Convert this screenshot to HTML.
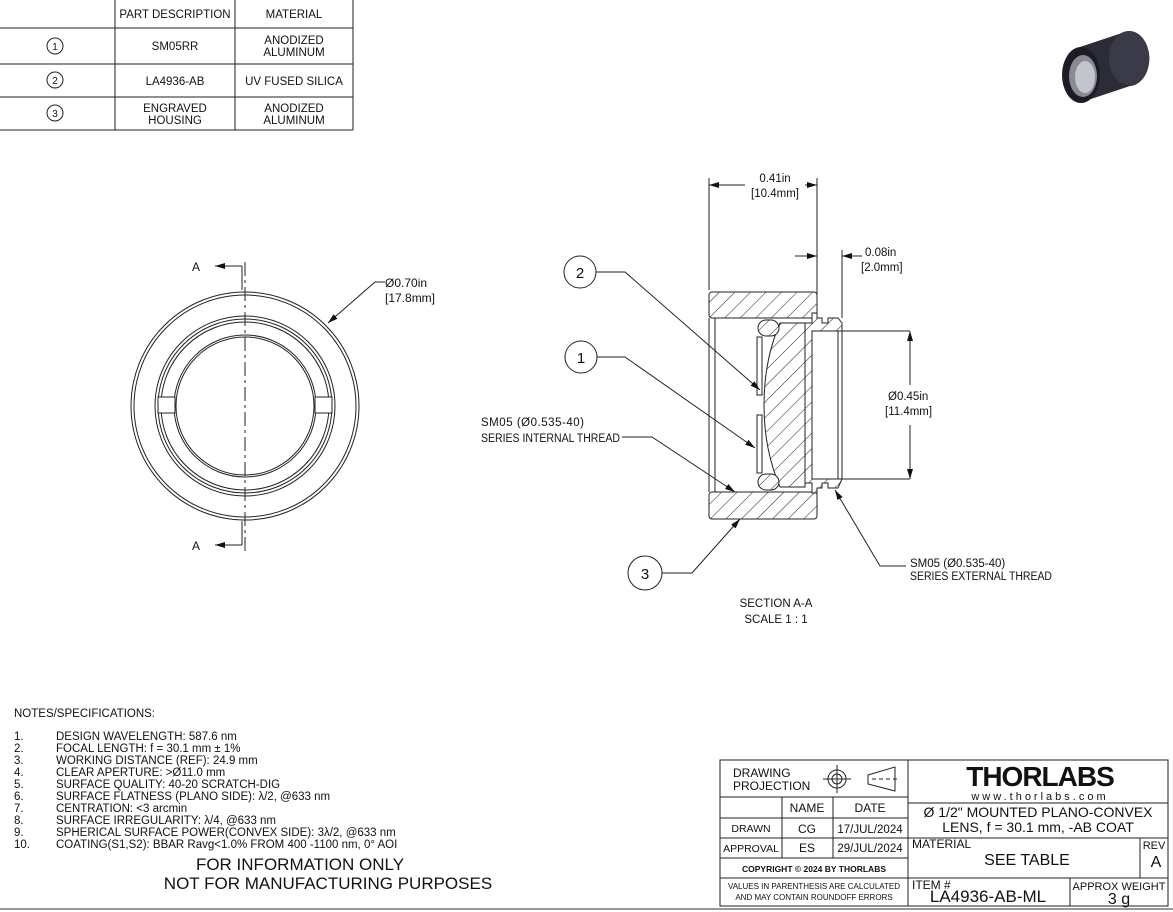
<!DOCTYPE html>
<html><head><meta charset="utf-8"><style>
html,body{margin:0;padding:0;background:#fff}
svg{display:block}
text{font-family:"Liberation Sans",sans-serif;fill:#111}
</style></head><body>
<svg width="1173" height="912" viewBox="0 0 1173 912" xmlns="http://www.w3.org/2000/svg">
<defs>
<pattern id="h" width="11" height="11" patternUnits="userSpaceOnUse" patternTransform="rotate(45)">
<rect width="11" height="11" fill="#fff"/><line x1="0" y1="0" x2="0" y2="11" stroke="#222" stroke-width="1"/>
</pattern>
<marker id="ar" markerWidth="10" markerHeight="6" refX="10" refY="3" orient="auto" markerUnits="userSpaceOnUse"><path d="M0,0 L10,3 L0,6z" fill="#111"/></marker>
</defs>
<g stroke="#222" fill="none" stroke-width="1">
<line x1="0" y1="28" x2="353" y2="28"/><line x1="0" y1="64" x2="353" y2="64"/><line x1="0" y1="97" x2="353" y2="97"/><line x1="0" y1="130" x2="353" y2="130"/>
<line x1="115" y1="0" x2="115" y2="130"/><line x1="235" y1="0" x2="235" y2="130"/><line x1="353" y1="0" x2="353" y2="130"/>
<circle cx="55" cy="46" r="8"/><circle cx="55" cy="80" r="8"/><circle cx="55" cy="113" r="8"/>
</g>
<g font-size="11.5" text-anchor="middle">
<text x="175" y="18">PART DESCRIPTION</text><text x="294" y="18">MATERIAL</text>
<text x="55" y="50" font-size="10">1</text><text x="55" y="84" font-size="10">2</text><text x="55" y="117" font-size="10">3</text>
<text x="175" y="50">SM05RR</text><text x="294" y="44">ANODIZED</text><text x="294" y="56">ALUMINUM</text>
<text x="175" y="85">LA4936-AB</text><text x="294" y="85">UV FUSED SILICA</text>
<text x="175" y="112">ENGRAVED</text><text x="175" y="124">HOUSING</text><text x="294" y="112">ANODIZED</text><text x="294" y="124">ALUMINUM</text>
</g>
<!-- thumbnail -->
<g>
<path d="M1080,47 L1128,31 A20,27 0 0 1 1130,86 L1082,102 Z" fill="#2c2c38"/>
<ellipse cx="1129" cy="58" rx="20" ry="27" fill="#3a3a48"/>
<ellipse cx="1081" cy="75" rx="19" ry="28" fill="#1c1c24"/>
<ellipse cx="1083" cy="76" rx="14" ry="21" fill="#8a8a96"/>
<ellipse cx="1085" cy="77" rx="10" ry="16" fill="#c4c4cc"/>
</g>
<!-- front view -->
<g stroke="#222" fill="none" stroke-width="1">
<circle cx="245" cy="406" r="114"/><circle cx="245" cy="406" r="111"/>
<circle cx="245" cy="406" r="90"/><circle cx="245" cy="406" r="87"/><circle cx="245" cy="406" r="84"/>
<circle cx="245" cy="406" r="71"/><circle cx="245" cy="406" r="69"/>
<rect x="158" y="397" width="17" height="16" fill="#fff"/><rect x="315" y="397" width="17" height="16" fill="#fff"/>
<line x1="245" y1="262" x2="245" y2="552" stroke-dasharray="14,4,3,4"/>
<line x1="242" y1="266" x2="242" y2="290"/><line x1="242" y1="266" x2="215" y2="266" marker-end="url(#ar)"/>
<line x1="242" y1="521" x2="242" y2="545"/><line x1="242" y1="545" x2="215" y2="545" marker-end="url(#ar)"/>
<polyline points="385,282 375,282 328,323" marker-end="url(#ar)"/>
</g>
<g font-size="12"><text x="192" y="271">A</text><text x="192" y="550">A</text>
<text x="385" y="287">Ø0.70in</text><text x="385" y="302">[17.8mm]</text></g>
<!-- section view -->
<g stroke="#222" stroke-width="1">
<rect x="709" y="292" width="108" height="26" rx="3" fill="url(#h)"/>
<rect x="709" y="492" width="108" height="27" rx="3" fill="url(#h)"/>
<line x1="709" y1="318" x2="709" y2="492"/><line x1="715" y1="318" x2="715" y2="492"/>
<path d="M805,323 H812 V313 H817 V318 H822 V323 H828 V318 H838 L842,323 V331 H842 V479 L838,488 H828 V483 H822 V488 H817 V493 H812 V483 H805 Z" fill="url(#h)"/>
<rect x="812" y="331" width="30" height="148" fill="#fff"/>
<line x1="838" y1="331" x2="838" y2="479"/><line x1="842" y1="331" x2="910" y2="331" fill="none"/><line x1="842" y1="479" x2="910" y2="479"/>
<path d="M780,323 H805 V487 H780 Q764,450 764,405 Q764,360 780,323 Z" fill="url(#h)"/>
<rect x="758" y="320" width="21" height="16" rx="8" fill="url(#h)"/>
<rect x="758" y="474" width="21" height="16" rx="8" fill="url(#h)"/>
<rect x="757" y="337" width="5" height="58" fill="#fff"/><rect x="757" y="415" width="5" height="58" fill="#fff"/>
</g>
<g stroke="#222" fill="none" stroke-width="1">
<line x1="709" y1="290" x2="709" y2="178"/><line x1="817" y1="290" x2="817" y2="178"/>
<line x1="745" y1="185" x2="709" y2="185" marker-end="url(#ar)"/><line x1="805" y1="185" x2="817" y2="185" marker-end="url(#ar)"/>
<line x1="817" y1="250" x2="817" y2="311"/><line x1="842" y1="250" x2="842" y2="318"/>
<line x1="795" y1="256" x2="817" y2="256" marker-end="url(#ar)"/><line x1="862" y1="256" x2="842" y2="256" marker-end="url(#ar)"/>
<line x1="910" y1="385" x2="910" y2="331" marker-end="url(#ar)"/><line x1="910" y1="425" x2="910" y2="479" marker-end="url(#ar)"/>
<circle cx="580" cy="272" r="16"/><polyline points="596,272 625,272 760,390" marker-end="url(#ar)"/>
<circle cx="581" cy="357" r="16"/><polyline points="597,357 625,357 755,448" marker-end="url(#ar)"/>
<polyline points="622,437 652,437 735,492" marker-end="url(#ar)"/>
<circle cx="645" cy="573" r="17"/><polyline points="662,573 692,573 740,519" marker-end="url(#ar)"/>
<polyline points="906,566 880,566 835,490" marker-end="url(#ar)"/>
</g>
<g font-size="11.5">
<text x="775" y="182" text-anchor="middle">0.41in</text><text x="775" y="197" text-anchor="middle">[10.4mm]</text>
<text x="865" y="256">0.08in</text><text x="861" y="271">[2.0mm]</text>
<text x="888" y="400">Ø0.45in</text><text x="885" y="415">[11.4mm]</text>
<text x="580" y="278" text-anchor="middle" font-size="15">2</text><text x="581" y="363" text-anchor="middle" font-size="15">1</text><text x="645" y="579" text-anchor="middle" font-size="15">3</text>
<text x="481" y="426" textLength="103">SM05 (Ø0.535-40)</text><text x="481" y="442" textLength="139" lengthAdjust="spacingAndGlyphs">SERIES INTERNAL THREAD</text>
<text x="910" y="567">SM05 (Ø0.535-40)</text><text x="910" y="580" textLength="142" lengthAdjust="spacingAndGlyphs">SERIES EXTERNAL THREAD</text>
<text x="776" y="607" text-anchor="middle">SECTION A-A</text><text x="776" y="623" text-anchor="middle">SCALE 1 : 1</text>
</g>
<g font-size="11.5">
<text x="14" y="717">NOTES/SPECIFICATIONS:</text>
<text x="14" y="740">1.</text><text x="56" y="740">DESIGN WAVELENGTH: 587.6 nm</text>
<text x="14" y="752">2.</text><text x="56" y="752">FOCAL LENGTH: f = 30.1 mm ± 1%</text>
<text x="14" y="764">3.</text><text x="56" y="764">WORKING DISTANCE (REF): 24.9 mm</text>
<text x="14" y="776">4.</text><text x="56" y="776">CLEAR APERTURE: &gt;Ø11.0 mm</text>
<text x="14" y="788">5.</text><text x="56" y="788">SURFACE QUALITY: 40-20 SCRATCH-DIG</text>
<text x="14" y="800">6.</text><text x="56" y="800">SURFACE FLATNESS (PLANO SIDE): λ/2, @633 nm</text>
<text x="14" y="812">7.</text><text x="56" y="812">CENTRATION: &lt;3 arcmin</text>
<text x="14" y="824">8.</text><text x="56" y="824">SURFACE IRREGULARITY: λ/4, @633 nm</text>
<text x="14" y="836">9.</text><text x="56" y="836">SPHERICAL SURFACE POWER(CONVEX SIDE): 3λ/2, @633 nm</text>
<text x="14" y="848">10.</text><text x="56" y="848">COATING(S1,S2): BBAR Ravg&lt;1.0% FROM 400 -1100 nm, 0° AOI</text>
<text x="300" y="870" font-size="17" text-anchor="middle">FOR INFORMATION ONLY</text>
<text x="328" y="889" font-size="17" text-anchor="middle">NOT FOR MANUFACTURING PURPOSES</text>
</g>
<line x1="0" y1="909" x2="1173" y2="909" stroke="#999" stroke-width="2"/>
<g stroke="#222" fill="none" stroke-width="1">
<rect x="720" y="760" width="448" height="146"/>
<line x1="908" y1="760" x2="908" y2="906"/>
<line x1="720" y1="797" x2="908" y2="797"/><line x1="720" y1="818" x2="908" y2="818"/><line x1="720" y1="838" x2="908" y2="838"/><line x1="720" y1="858" x2="908" y2="858"/><line x1="720" y1="878" x2="908" y2="878"/>
<line x1="782" y1="797" x2="782" y2="858"/><line x1="833" y1="797" x2="833" y2="858"/>
<line x1="908" y1="803" x2="1168" y2="803"/><line x1="908" y1="838" x2="1168" y2="838"/><line x1="908" y1="878" x2="1168" y2="878"/>
<line x1="1140" y1="838" x2="1140" y2="878"/><line x1="1070" y1="878" x2="1070" y2="906"/>
<circle cx="837" cy="779" r="9"/><circle cx="837" cy="779" r="5"/><line x1="823" y1="779" x2="851" y2="779"/><line x1="837" y1="765" x2="837" y2="793"/>
<polygon points="868,775 895,767 895,791 868,784"/><line x1="872" y1="779" x2="898" y2="779" stroke-dasharray="4,3"/>
</g>
<g font-size="12">
<text x="733" y="777">DRAWING</text><text x="733" y="790">PROJECTION</text>
<text x="807" y="812" text-anchor="middle">NAME</text><text x="870" y="812" text-anchor="middle">DATE</text>
<text x="751" y="832" text-anchor="middle" font-size="10.5">DRAWN</text><text x="807" y="833" text-anchor="middle">CG</text><text x="870" y="833" text-anchor="middle" font-size="11.5">17/JUL/2024</text>
<text x="751" y="852" text-anchor="middle" font-size="10.5">APPROVAL</text><text x="807" y="852" text-anchor="middle">ES</text><text x="870" y="852" text-anchor="middle" font-size="11.5">29/JUL/2024</text>
<text x="814" y="872" text-anchor="middle" font-size="8.5" font-weight="bold">COPYRIGHT © 2024 BY THORLABS</text>
<text x="814" y="889" text-anchor="middle" font-size="8">VALUES IN PARENTHESIS ARE CALCULATED</text>
<text x="814" y="900" text-anchor="middle" font-size="8">AND MAY CONTAIN ROUNDOFF ERRORS</text>
<text x="1040" y="786" text-anchor="middle" font-size="28" font-weight="bold" letter-spacing="-1">THORLABS</text>
<text x="1040" y="800" text-anchor="middle" font-size="11" letter-spacing="3">www.thorlabs.com</text>
<text x="1038" y="817" text-anchor="middle" font-size="14">Ø 1/2" MOUNTED PLANO-CONVEX</text>
<text x="1038" y="832" text-anchor="middle" font-size="14">LENS, f = 30.1 mm, -AB COAT</text>
<text x="912" y="848">MATERIAL</text><text x="1027" y="865" text-anchor="middle" font-size="16">SEE TABLE</text>
<text x="1154" y="849" text-anchor="middle" font-size="11">REV</text><text x="1156" y="867" text-anchor="middle" font-size="16">A</text>
<text x="912" y="889">ITEM #</text><text x="988" y="902" text-anchor="middle" font-size="17">LA4936-AB-ML</text>
<text x="1119" y="890" text-anchor="middle" font-size="11">APPROX WEIGHT</text><text x="1119" y="904" text-anchor="middle" font-size="16">3 g</text>
</g>
</svg>
</body></html>
